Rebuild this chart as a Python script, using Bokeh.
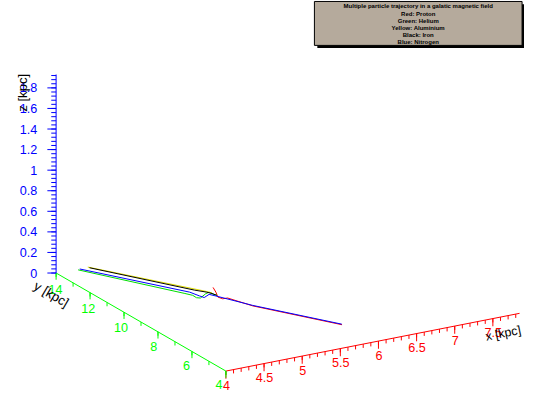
import numpy as np
from bokeh.plotting import figure
from bokeh.models import Range1d
from bokeh.embed import file_html
from bokeh.resources import INLINE
from bokeh.core.properties import value

# ---------------- data ----------------
title_lines = [
    "Multiple particle trajectory in a galatic magnetic field",
    "Red: Proton",
    "Green: Helium",
    "Yellow: Aluminium",
    "Black: Iron",
    "Blue: Nitrogen",
]

x_ticks = [4.0, 4.5, 5.0, 5.5, 6.0, 6.5, 7.0, 7.5]
x_tick_labels = ["4", "4.5", "5", "5.5", "6", "6.5", "7", "7.5"]
y_ticks = [4.0, 6.0, 8.0, 10.0, 12.0, 14.0]
y_tick_labels = ["4", "6", "8", "10", "12", "14"]
z_ticks = [0.0, 0.2, 0.4, 0.6, 0.8, 1.0, 1.2, 1.4, 1.6, 1.8]
z_tick_labels = ["0", "0.2", "0.4", "0.6", "0.8", "1", "1.2", "1.4", "1.6", "1.8"]
x_lo, x_hi = 4.0, 7.85
y_lo, y_hi = 4.0, 14.0
z_lo, z_hi = 0.0, 1.93

# trajectories [kpc]
proton_x = [5.256, 5.203, 5.140, 5.158, 5.219, 5.332, 5.886]
proton_y = [10.399, 9.990, 9.595, 9.391, 9.377, 8.400, 5.631]
proton_z = [0.02, 0.02, 0.02, 0.02, 0.02, 0.02, 0.02]

helium_x = [4.234, 4.878, 4.923, 4.920, 4.953, 5.079, 5.136, 5.142, 5.163]
helium_y = [13.755, 10.360, 10.104, 9.864, 9.783, 10.033, 10.092, 9.887, 9.756]
helium_z = [0.02, 0.02, 0.02, 0.02, 0.02, 0.02, 0.02, 0.02, 0.02]

aluminium_x = [4.376, 5.122, 5.152]
aluminium_y = [13.822, 10.201, 9.990]
aluminium_z = [0.02, 0.02, 0.02]

iron_x = [4.381, 5.030, 5.111, 5.144, 5.158]
iron_y = [13.746, 10.470, 10.150, 9.953, 9.734]
iron_z = [0.02, 0.02, 0.02, 0.02, 0.02]

nitrogen_x = [4.265, 4.948, 4.979, 4.999, 5.100, 5.139, 5.340, 5.893]
nitrogen_y = [13.796, 10.389, 9.959, 9.762, 9.931, 9.705, 8.437, 5.679]
nitrogen_z = [0.02, 0.02, 0.02, 0.02, 0.02, 0.02, 0.02, 0.02]

# ---------------- view (3D -> canvas) ----------------
O = (232.3, 385.5)
EX = (78.6, -15.6)
EY = (-17.5, -10.2)
EZ = (0.0, -107.0)


def proj(x, y, z):
    x = np.asarray(x, float)
    y = np.asarray(y, float)
    z = np.asarray(z, float)
    u = O[0] + EX[0] * (x - x_lo) + EY[0] * (y - y_lo) + EZ[0] * z
    v = O[1] + EX[1] * (x - x_lo) + EY[1] * (y - y_lo) + EZ[1] * z
    return u, v


W, H = 524, 397
S = W / 540.0
FONT = value("Liberation Sans")

p = figure(width=W, height=H, x_range=Range1d(0, 540), y_range=Range1d(413, 0),
           output_backend="svg", toolbar_location=None, min_border=0)
p.axis.visible = False
p.grid.visible = False
p.outline_line_color = None
p.background_fill_color = "white"
p.border_fill_color = "white"

RED, GREEN, BLUE = "#ff0000", "#00ff00", "#0000ff"

# ---- x axis ----
u, v = proj([x_lo, x_hi], [y_lo, y_lo], [0, 0])
p.line(u, v, line_color=RED, line_width=1)
xm = np.round(np.arange(4.0, 7.85 + 1e-9, 0.1), 3)
u, v = proj(xm, np.full(len(xm), y_lo), np.zeros(len(xm)))
p.segment(u, v, u, v + 4, line_color=RED, line_width=1)
u, v = proj(x_ticks, np.full(len(x_ticks), y_lo), np.zeros(len(x_ticks)))
p.segment(u, v, u, v + 8, line_color=RED, line_width=1)
p.text(u + 0.5, v + 15, text=x_tick_labels, text_color=RED, text_font=FONT,
       text_font_size=f"{13*S:.1f}px", text_align="center", text_baseline="middle")

# ---- y axis ----
u, v = proj([x_lo, x_lo], [y_lo, y_hi], [0, 0])
p.line(u, v, line_color=GREEN, line_width=1)
ym = np.arange(4.0, 14.0 + 1e-9, 1.0)
u, v = proj(np.full(len(ym), x_lo), ym, np.zeros(len(ym)))
p.segment(u, v, u, v + 4, line_color=GREEN, line_width=1)
u, v = proj(np.full(len(y_ticks), x_lo), y_ticks, np.zeros(len(y_ticks)))
p.segment(u, v, u, v + 7, line_color=GREEN, line_width=1)
yt = np.asarray(y_ticks)
p.text(u - 7 + 0.64 * (yt - 4), v + 13.5 + 0.4 * (yt - 4), text=y_tick_labels,
       text_color=GREEN, text_font=FONT, text_font_size=f"{13*S:.1f}px",
       text_align="center", text_baseline="middle")

# ---- z axis ----
u, v = proj([x_lo, x_lo], [y_hi, y_hi], [0, z_hi])
p.line(u, v, line_color=BLUE, line_width=1)
zm = np.round(np.arange(0.0, 1.92 + 1e-9, 0.04), 3)
u, v = proj(np.full(len(zm), x_lo), np.full(len(zm), y_hi), zm)
p.segment(u, v, u - 5, v, line_color=BLUE, line_width=1)
u, v = proj(np.full(len(z_ticks), x_lo), np.full(len(z_ticks), y_hi), z_ticks)
p.segment(u, v, u - 9, v, line_color=BLUE, line_width=1)
p.text(u - 19.5, v, text=z_tick_labels, text_color=BLUE, text_font=FONT,
       text_font_size=f"{13*S:.1f}px", text_align="right", text_baseline="middle")

# ---- axis titles ----
tsize = f"{13.5*S:.1f}px"
p.text([500], [350], text=["x [kpc]"], angle=np.deg2rad(11.5), text_color="black",
       text_font=FONT, text_font_size=f"{12.8*S:.1f}px", text_align="left",
       text_baseline="middle")
p.text([52.5], [305.5], text=["y [kpc]"], angle=np.deg2rad(-30.5), text_color="black",
       text_font=FONT, text_font_size=tsize, text_align="center", text_baseline="middle")
p.text([22.5], [96], text=["z [kpc]"], angle=np.pi / 2, text_color="black",
       text_font=FONT, text_font_size=tsize, text_align="center", text_baseline="middle")

# ---- trajectories ----
for xs, ys, zs, col in [
    (proton_x, proton_y, proton_z, "#ff0000"),
    (helium_x, helium_y, helium_z, "#00dd00"),
    (aluminium_x, aluminium_y, aluminium_z, "#e0e000"),
    (iron_x, iron_y, iron_z, "#000000"),
    (nitrogen_x, nitrogen_y, nitrogen_z, "#0000ff"),
]:
    u, v = proj(xs, ys, zs)
    p.line(u, v, line_color=col, line_width=1)

# ---- title pave ----
p.quad(left=[326.5], right=[540.5], top=[4], bottom=[49.5], fill_color="black",
       line_color=None)
p.quad(left=[323.5], right=[537.5], top=[1], bottom=[46.7], fill_color="#b5aa9c",
       line_color="black", line_width=1)
ty = [6.2 + 7.45 * i for i in range(len(title_lines))]
p.text([430.5] * len(title_lines), ty, text=title_lines, text_color="black",
       text_font=FONT, text_font_style="bold", text_font_size="6px",
       text_align="center", text_baseline="middle")

open("out.html", "w").write(file_html(p, INLINE))
